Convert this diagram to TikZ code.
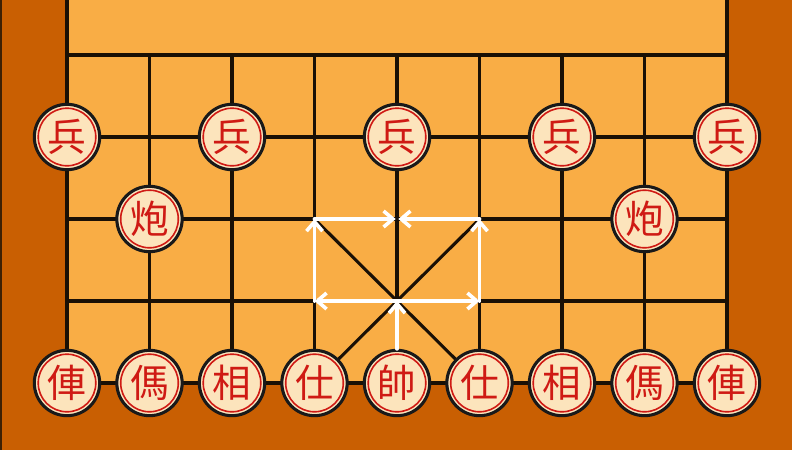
\documentclass[tikz,border=0pt]{standalone}
\usepackage{fontspec}
\newfontfamily\cjk{Noto Sans CJK TC}
\usetikzlibrary{arrows.meta}
\definecolor{boardlight}{HTML}{F9AD45}
\definecolor{boarddark}{HTML}{C95F02}
\definecolor{gridline}{HTML}{1A1005}
\definecolor{piecefill}{HTML}{FCE4BC}
\definecolor{piecered}{HTML}{CF1A14}
\tikzset{
  gridstyle/.style={draw=gridline, line width=2.3pt},
  piece/.style={circle, draw=black!90, fill=piecefill, line width=2.3pt,
    minimum size=49pt, inner sep=0pt, text=piecered,
    font=\cjk\fontsize{29pt}{29pt}\selectfont,
    path picture={\draw[piecered, line width=1.2pt] (path picture bounding box.center) circle (21.6pt);}},
  move/.style={draw=white, line width=2.9pt, line cap=round,
    -{Straight Barb[length=7pt, width=12pt, line width=2.7pt]}}
}
\begin{document}
\begin{tikzpicture}[x=0.75pt, y=-0.75pt]
\useasboundingbox (0,0) rectangle (792,450);
% background
\fill[boarddark] (0,0) rectangle (792,450);
\fill[boardlight] (67,0) rectangle (727,383);
\draw[gridline!80!boarddark, line width=1.5pt] (1,0) -- (1,450);
% grid coordinates
\foreach \i in {0,...,8} {
  \foreach \j/\y in {0/383,1/301,2/219,3/137,4/55} {
    \coordinate (g\i-\j) at ({67+82.5*\i},\y);
  }
}
\coordinate (top0) at (67,0);
\coordinate (top8) at (727,0);
% grid lines
\foreach \j in {0,...,4} { \draw[gridstyle] (g0-\j) -- (g8-\j); }
\foreach \i in {1,...,7} { \draw[gridstyle] (g\i-0) -- (g\i-4); }
\draw[gridstyle] (top0) -- (g0-0);
\draw[gridstyle] (top8) -- (g8-0);
% palace
\draw[gridstyle] (g3-2) -- (g5-0);
\draw[gridstyle] (g5-2) -- (g3-0);
% pieces
\node[piece] (b1) at (g0-3) {兵};
\node[piece] (b2) at (g2-3) {兵};
\node[piece] (b3) at (g4-3) {兵};
\node[piece] (b4) at (g6-3) {兵};
\node[piece] (b5) at (g8-3) {兵};
\node[piece] (p1) at (g1-2) {炮};
\node[piece] (p2) at (g7-2) {炮};
\node[piece] (r1) at (g0-0) {俥};
\node[piece] (h1) at (g1-0) {傌};
\node[piece] (e1) at (g2-0) {相};
\node[piece] (a1) at (g3-0) {仕};
\node[piece] (k)  at (g4-0) {帥};
\node[piece] (a2) at (g5-0) {仕};
\node[piece] (e2) at (g6-0) {相};
\node[piece] (h2) at (g7-0) {傌};
\node[piece] (r2) at (g8-0) {俥};
% moves
\draw[move] (k.north) -- (g4-1);
\draw[move] (g4-1) -- (g3-1);
\draw[move] (g4-1) -- (g5-1);
\draw[move] (g3-1) -- (g3-2);
\draw[move] (g5-1) -- (g5-2);
\draw[move, shorten >=1pt] (g3-2) -- (g4-2);
\draw[move, shorten >=1pt] (g5-2) -- (g4-2);
\end{tikzpicture}
\end{document}
